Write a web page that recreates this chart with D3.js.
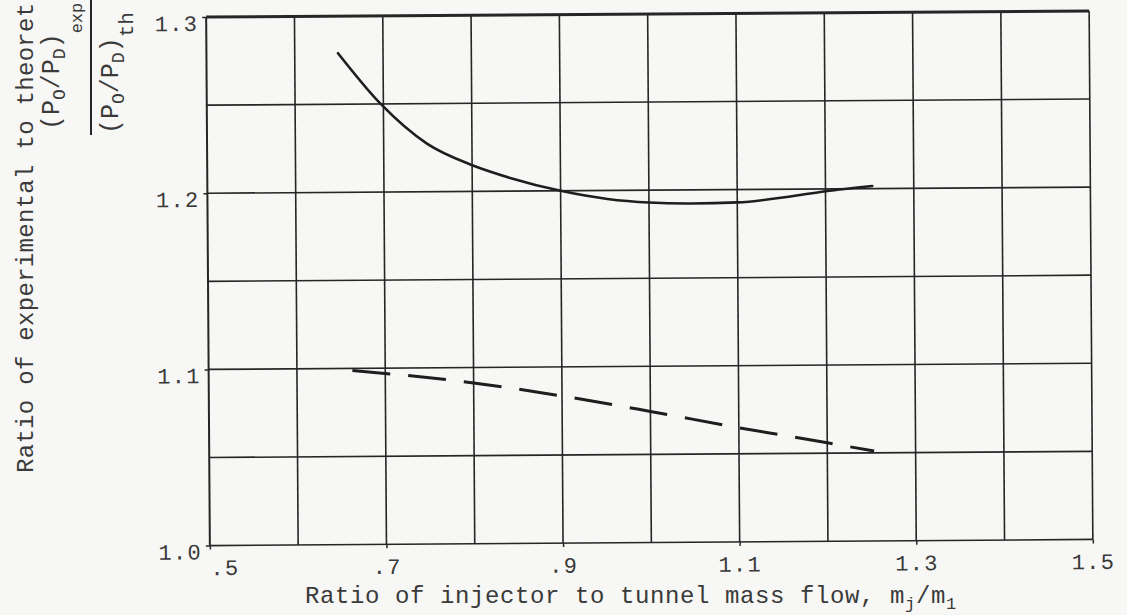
<!DOCTYPE html>
<html>
<head>
<meta charset="utf-8">
<script src="https://cdn.jsdelivr.net/npm/d3@7"></script>
<style>
  html, body { margin: 0; padding: 0; background: #f7f7f5; }
  svg { display: block; }
  text { font-family: "Liberation Mono", "DejaVu Sans Mono", monospace; fill: #3a3a3a; }
</style>
</head>
<body>
<svg id="chart" width="1127" height="615"></svg>
<script>
// ---- data ----
const xDomain = [0.5, 1.5];
const yDomain = [1.0, 1.3];
const xGrid = [0.5, 0.6, 0.7, 0.8, 0.9, 1.0, 1.1, 1.2, 1.3, 1.4, 1.5];
const yGrid = [1.0, 1.05, 1.1, 1.15, 1.2, 1.25, 1.3];
const xTickValues = [0.5, 0.7, 0.9, 1.1, 1.3, 1.5];
const xTickLabels = [".5", ".7", ".9", "1.1", "1.3", "1.5"];
const yTickValues = [1.0, 1.1, 1.2, 1.3];
const yTickLabels = ["1.0", "1.1", "1.2", "1.3"];

// solid curve
const solidX = [0.649, 0.697, 0.749, 0.801, 0.843, 0.900, 0.953, 1.000, 1.048, 1.100, 1.156, 1.200, 1.253];
const solidY = [1.279, 1.250, 1.2273, 1.2147, 1.2075, 1.2000, 1.1952, 1.1930, 1.1923, 1.1927, 1.1956, 1.1987, 1.2015];
// dashed curve
const dashX = [0.647, 0.800, 0.900, 1.000, 1.100, 1.200, 1.253];
const dashY = [1.0995, 1.0913, 1.0835, 1.0744, 1.0648, 1.0559, 1.0510];

// ---- layout ----
const svg = d3.select("#chart");
const L = 208, R = 1091, T = 14, B = 542.5;
const cx = (L + R) / 2, cy = (T + B) / 2;
const x = d3.scaleLinear().domain(xDomain).range([L, R]);
const y = d3.scaleLinear().domain(yDomain).range([B, T]);

const g = svg.append("g").attr("transform", `rotate(-0.4 ${cx} ${cy})`);
const ink = "#262626";

// grid
g.append("g").selectAll("line").data(xGrid).join("line")
  .attr("x1", d => x(d)).attr("x2", d => x(d))
  .attr("y1", y(yDomain[0])).attr("y2", y(yDomain[1]))
  .attr("stroke", ink).attr("stroke-width", (d, i) => (i === 0 ? 2 : 1.6));
g.append("g").selectAll("line").data(yGrid).join("line")
  .attr("x1", x(xDomain[0])).attr("x2", x(xDomain[1]))
  .attr("y1", d => y(d)).attr("y2", d => y(d))
  .attr("stroke", ink).attr("stroke-width", (d, i, a) => (i === a.length - 1 ? 3 : 1.6));

// axes (ticks + labels)
const yAxis = d3.axisLeft(y).tickValues(yTickValues)
  .tickFormat((d, i) => yTickLabels[i]).tickSize(4).tickPadding(4);
const ya = g.append("g").attr("transform", `translate(${L},0)`).call(yAxis);
ya.select(".domain").remove();
ya.selectAll(".tick line").attr("stroke", ink).attr("stroke-width", 1.5);
ya.selectAll(".tick text").attr("font-size", 22).attr("letter-spacing", 1.3)
  .attr("dy", "0.6em").attr("fill", "#3a3a3a");

const xAxis = d3.axisBottom(x).tickValues(xTickValues)
  .tickFormat((d, i) => xTickLabels[i]).tickSize(4).tickPadding(10);
const xa = g.append("g").attr("transform", `translate(0,${B})`).call(xAxis);
xa.select(".domain").remove();
xa.selectAll(".tick line").attr("stroke", ink).attr("stroke-width", 1.5);
xa.selectAll(".tick text").attr("font-size", 22).attr("letter-spacing", 1.3)
  .attr("fill", "#3a3a3a")
  .attr("text-anchor", (d, i) => (i === 0 ? "start" : "middle"));

// curves
const line = d3.line().x(d => x(d[0])).y(d => y(d[1])).curve(d3.curveMonotoneX);
g.append("path").datum(d3.zip(solidX, solidY))
  .attr("d", line).attr("fill", "none").attr("stroke", "#1e1e1e")
  .attr("stroke-width", 2.6).attr("stroke-linecap", "round");
g.append("path").datum(d3.zip(dashX, dashY))
  .attr("d", line).attr("fill", "none").attr("stroke", "#1e1e1e")
  .attr("stroke-width", 3).attr("stroke-dasharray", "38,18").attr("stroke-dashoffset", "-14");

// x axis title
const xt = svg.append("text").attr("x", 305).attr("y", 603).attr("font-size", 24).attr("letter-spacing", 0.6);
xt.append("tspan").text("Ratio of injector to tunnel mass flow, m");
xt.append("tspan").attr("font-size", 17).attr("dy", 6).text("j");
xt.append("tspan").attr("dy", -6).text("/m");
xt.append("tspan").attr("font-size", 17).attr("dy", 6).text("1");

// y axis title (rotated); only the part visible in the original is kept
svg.append("text").attr("transform", "translate(33,473) rotate(-90)")
  .attr("font-size", 24).attr("letter-spacing", 0.3)
  .text("Ratio of experimental to theoret");

function frac(tx, ty, sub, subShift, subSize) {
  const t = svg.append("text").attr("transform", `translate(${tx},${ty}) rotate(-90)`)
    .attr("font-size", 25);
  t.append("tspan").text("(P");
  t.append("tspan").attr("font-size", 18).attr("dy", 6).text("O");
  t.append("tspan").attr("dy", -6).text("/P");
  t.append("tspan").attr("font-size", 18).attr("dy", 6).text("D");
  t.append("tspan").attr("dy", -6).text(")");
  t.append("tspan").attr("dy", subShift).attr("font-size", subSize).text(sub);
}
frac(59, 130, "exp", 23, 17);
frac(118, 134, "th", 15, 21);
svg.append("line").attr("x1", 91).attr("x2", 91).attr("y1", 135).attr("y2", 0)
  .attr("stroke", ink).attr("stroke-width", 2);
</script>
</body>
</html>
